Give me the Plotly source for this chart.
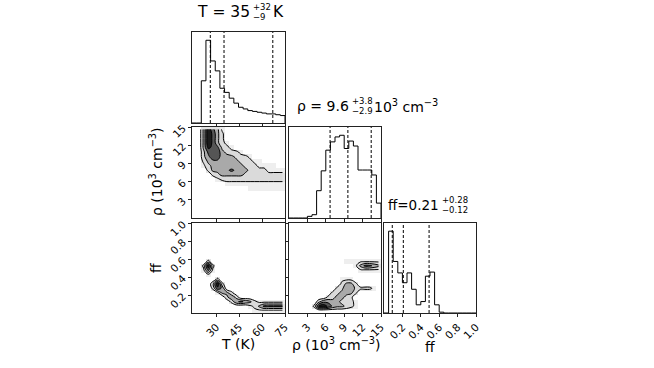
import plotly.graph_objects as go

W, H = 654, 368

# ---- marginal histograms: 20 bins over each axis range, heights relative to peak
T_range = (14, 75)
rho_range = (0, 15)
ff_range = (0, 1)

T_counts = [0, 0, 51, 100, 75, 63, 42, 37, 30, 24, 19, 17, 15, 14, 13, 12, 11, 11, 10, 9]
rho_counts = [0, 0, 0, 0, 2, 4, 33, 57, 82, 92, 98, 100, 84, 93, 87, 58, 58, 58, 52, 18]
ff_counts = [0, 100, 63, 49, 37, 49, 29, 10, 14, 45, 50, 10, 1, 0, 0, 0, 0, 0, 0, 0]

# 16/50/84 percent quantiles (dashed lines)
T_q = [26, 35, 67]
rho_q = [6.7, 9.6, 13.4]
ff_q = [0.09, 0.21, 0.49]

T_ticks = [30, 45, 60, 75]
rho_ticks = [3, 6, 9, 12, 15]
ff_ticks = [0.2, 0.4, 0.6, 0.8, 1.0]
ff_ticktext = ["0.2", "0.4", "0.6", "0.8", "1.0"]

# ---- 2d densities (20x20 bins, 0-9), first string = top row
dens_T_rho = [
    "00496410000000000000",
    "00497420000000000000",
    "00497420000000000000",
    "00497421000000000000",
    "00487632100000000000",
    "00367743221000000000",
    "00357744432210000000",
    "00245554443221100000",
    "00134444444322111100",
    "00024445654432221111",
    "00002344444322222222",
    "00000122222222222222",
    "00000001111111111111",
    "00000000000011111111",
    "00000000000000000000",
    "00000000000000000000",
    "00000000000000000000",
    "00000000000000000000",
    "00000000000000000000",
    "00000000000000000000",
]
dens_T_ff = [
    "00000000000000000000",
    "00000000000000000000",
    "00000000000000000000",
    "00000000000000000000",
    "00000000000000000000",
    "00000000000000000000",
    "00000000000000000000",
    "00000000000000000000",
    "00020000000000000000",
    "00292000000000000000",
    "00161000000000000000",
    "00010000000000000000",
    "00000200000000000000",
    "00003920000000000000",
    "00002750000000000000",
    "00000144200000000000",
    "00000003530000000000",
    "00000000256542111111",
    "00000000000012466666",
    "00000000000001111111",
]
dens_rho_ff = [
    "00000000000000000000",
    "00000000000000000000",
    "00000000000000000000",
    "00000000000000000000",
    "00000000000000000000",
    "00000000000000000000",
    "00000000000000000000",
    "00000000000000000000",
    "00000000000011111111",
    "00000000000000146654",
    "00000000000000011111",
    "00000000000000000000",
    "00000000000111000000",
    "00000000000244200000",
    "00000000002355322210",
    "00000000023444200000",
    "00000000234432000000",
    "00000035544332100000",
    "00000289754432100000",
    "00000000000000000000",
]

levels = [1.5, 3.5, 5.5, 7.5]
FONT = "DejaVu Sans"

def edges(rng, n=20):
    return [rng[0] + k * (rng[1] - rng[0]) / n for k in range(n + 1)]

def centers(rng, n=20):
    e = edges(rng, n)
    return [(a + b) / 2 for a, b in zip(e[:-1], e[1:])]

def grid(rows):
    return [[int(c) for c in r] for r in reversed(rows)]

def px(x):
    return x / W

def py(y):
    return 1 - y / H

# pixel boxes of the panels
cols = [(192, 285), (289, 381), (384, 476)]
rows = [(32, 123), (127, 218), (223, 313)]

fig = go.Figure()

base_ax = dict(showline=True, mirror=True, linecolor="#222", linewidth=1,
               ticks="outside", ticklen=3, tickwidth=1, tickcolor="#222",
               showgrid=False, zeroline=False, automargin=False,
               tickfont=dict(family=FONT, size=10.5, color="black"))

def set_axes(n, c, r, xr, yr, xt, yt, xlab, ylab, xtt=None, ytt=None):
    sx = "" if n == 1 else str(n)
    xa = dict(base_ax, domain=[px(cols[c][0]), px(cols[c][1])], range=list(xr),
              anchor="y" + sx, tickvals=xt, showticklabels=xlab, tickangle=-45)
    if xtt:
        xa["ticktext"] = xtt
    ya = dict(base_ax, domain=[py(rows[r][1]), py(rows[r][0])], range=list(yr),
              anchor="x" + sx, showticklabels=ylab, tickangle=-45,
              ticklabelstandoff=3)
    if yt is None:
        ya.update(ticks="", tickvals=[])
    else:
        ya["tickvals"] = yt
        if ytt:
            ya["ticktext"] = ytt
    fig.update_layout({"xaxis" + sx: xa, "yaxis" + sx: ya})

def add_hist(n, rng, counts, q):
    sx = "" if n == 1 else str(n)
    e = edges(rng)
    top = max(counts) * 1.1
    fig.add_trace(go.Scatter(x=[e[0]] + e, y=[0] + counts + [0], mode="lines",
                             line=dict(color="black", width=1, shape="hv"),
                             xaxis="x" + sx, yaxis="y" + sx, showlegend=False))
    for v in q:
        fig.add_trace(go.Scatter(x=[v, v], y=[0, top], mode="lines",
                                 line=dict(color="black", width=1, dash="3px,2px"),
                                 xaxis="x" + sx, yaxis="y" + sx, showlegend=False))
    return top

pale = [[0, "white"], [0.0556, "white"], [0.0556, "#eeeeee"], [0.1667, "#eeeeee"],
        [0.1667, "#e3e3e3"], [1, "#e3e3e3"]]
bands = [[0, "rgba(255,255,255,0)"], [0.1667, "rgba(255,255,255,0)"],
         [0.1667, "#dadada"], [0.3889, "#dadada"], [0.3889, "#a9a9a9"],
         [0.6111, "#a9a9a9"], [0.6111, "#555555"], [0.8333, "#555555"],
         [0.8333, "#1c1c1c"], [1, "#1c1c1c"]]

def add_2d(n, xr, yr, rows_):
    sx = "" if n == 1 else str(n)
    z = grid(rows_)
    xc, yc = centers(xr), centers(yr)
    fig.add_trace(go.Heatmap(x=xc, y=yc, z=z, zmin=0, zmax=9, colorscale=pale,
                             showscale=False, xaxis="x" + sx, yaxis="y" + sx,
                             hoverinfo="skip"))
    fig.add_trace(go.Contour(x=xc, y=yc, z=z, zmin=0, zmax=9, zauto=False,
                             autocontour=False,
                             contours=dict(start=levels[0], end=levels[-1], size=2,
                                           coloring="fill"),
                             colorscale=bands, showscale=False,
                             line=dict(color="black", width=1, smoothing=1.0),
                             xaxis="x" + sx, yaxis="y" + sx, hoverinfo="skip"))

tT = add_hist(1, T_range, T_counts, T_q)
add_2d(2, T_range, rho_range, dens_T_rho)
tR = add_hist(3, rho_range, rho_counts, rho_q)
add_2d(4, T_range, ff_range, dens_T_ff)
add_2d(5, rho_range, ff_range, dens_rho_ff)
tF = add_hist(6, ff_range, ff_counts, ff_q)

set_axes(1, 0, 0, T_range, (0, tT), T_ticks, None, False, False)
set_axes(2, 0, 1, T_range, rho_range, T_ticks, rho_ticks, False, True)
set_axes(3, 1, 1, rho_range, (0, tR), rho_ticks, None, False, False)
set_axes(4, 0, 2, T_range, ff_range, T_ticks, ff_ticks, True, True, None, ff_ticktext)
set_axes(5, 1, 2, rho_range, ff_range, rho_ticks, ff_ticks, True, False)
set_axes(6, 2, 2, ff_range, (0, tF), ff_ticks, None, True, False, ff_ticktext)

ann = []

def txt(x, y, s, size=14, anchor="left", angle=0):
    ann.append(dict(x=px(x), y=py(y), xref="paper", yref="paper", text=s,
                    showarrow=False, xanchor=anchor, yanchor="middle", textangle=angle,
                    borderpad=0, font=dict(family=FONT, size=size, color="black")))

def title(xs, y, main, size, sup, sub, xt=None, tail=""):
    # main text ends where the stacked scripts begin
    txt(xs, y, main, size=size, anchor="right")
    txt(xs + 1, y - 5, sup, size=8.5)
    txt(xs + 1, y + 5, sub, size=8.5)
    if tail:
        txt(xt, y, tail, size=size)

title(251, 12, "T = 35", 15.5, "+32", "\u22129", 272, "K")
title(350, 106, "\u03c1 = 9.6", 14, "+3.8", "\u22122.9", 373,
      "10<sup>3</sup> cm<sup>\u22123</sup>")
title(440, 205, "ff=0.21", 13.5, "+0.28", "\u22120.12")

txt(238, 344, "T (K)", anchor="center")
txt(336, 344, "\u03c1 (10<sup>3</sup> cm<sup>\u22123</sup>)", anchor="center")
txt(430, 347, "ff", anchor="center")
txt(156, 172, "\u03c1 (10<sup>3</sup> cm<sup>\u22123</sup>)", anchor="center", angle=-90)
txt(156, 268, "ff", anchor="center", angle=-90)

fig.update_layout(width=W, height=H, margin=dict(l=0, r=0, t=0, b=0),
                  paper_bgcolor="white", plot_bgcolor="white",
                  showlegend=False, annotations=ann)

fig.write_html("out.html", config={"displayModeBar": False},
               post_script="document.body.style.margin = '0px';")
